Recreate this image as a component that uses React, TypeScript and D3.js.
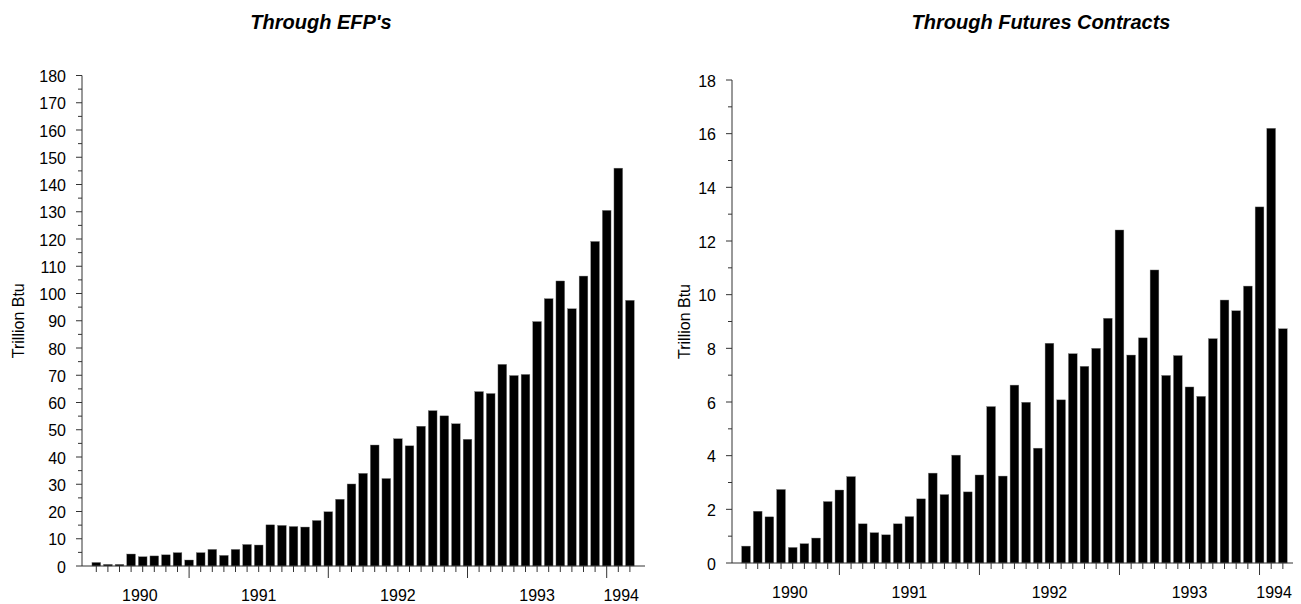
import React from "react";
import * as d3 from "d3";

const months: string[] = [
  "1990-05","1990-06","1990-07","1990-08","1990-09","1990-10","1990-11","1990-12",
  "1991-01","1991-02","1991-03","1991-04","1991-05","1991-06","1991-07","1991-08","1991-09","1991-10","1991-11","1991-12",
  "1992-01","1992-02","1992-03","1992-04","1992-05","1992-06","1992-07","1992-08","1992-09","1992-10","1992-11","1992-12",
  "1993-01","1993-02","1993-03","1993-04","1993-05","1993-06","1993-07","1993-08","1993-09","1993-10","1993-11","1993-12",
  "1994-01","1994-02","1994-03",
];

const efpValues: number[] = [
  1.3, 0.6, 0.6, 4.4, 3.4, 3.7, 4.1, 4.9, 2.2, 4.9, 6.1, 3.9, 6.1, 7.9, 7.7, 15.1,
  14.9, 14.5, 14.3, 16.7, 19.9, 24.5, 30.1, 34.0, 44.4, 32.1, 46.7, 44.1, 51.3, 57.0, 55.1, 52.2,
  46.5, 64.0, 63.3, 74.0, 69.9, 70.3, 89.7, 98.1, 104.6, 94.4, 106.4, 119.1, 130.5, 146.0, 97.5,
];

const futuresValues: number[] = [
  0.63, 1.93, 1.72, 2.74, 0.58, 0.72, 0.93, 2.29, 2.72, 3.22, 1.46, 1.13, 1.05, 1.46, 1.73, 2.39,
  3.35, 2.55, 4.02, 2.65, 3.28, 5.83, 3.24, 6.63, 5.99, 4.28, 8.19, 6.08, 7.80, 7.33, 8.0, 9.12,
  12.41, 7.75, 8.39, 10.92, 6.99, 7.73, 6.56, 6.21, 8.36, 9.80, 9.40, 10.32, 13.27, 16.20, 8.73,
];

const years: string[] = ["1990", "1991", "1992", "1993", "1994"];
const efpTicks: number[] = [0, 10, 20, 30, 40, 50, 60, 70, 80, 90, 100, 110, 120, 130, 140, 150, 160, 170, 180];
const futuresTicks: number[] = [0, 2, 4, 6, 8, 10, 12, 14, 16, 18];

const FONT = "Liberation Sans, Arial, sans-serif";
const AXIS = "#333";

type PanelProps = {
  title: string;
  titleX: number;
  values: number[];
  yMax: number;
  ticks: number[];
  minorStep: number;
  axisX: number;
  axisEnd: number;
  bandStart: number;
  bandEnd: number;
  yBottom: number;
  yTop: number;
  yLabelX: number;
};

function Panel(p: PanelProps) {
  const x = d3.scaleBand<string>().domain(months).range([p.bandStart, p.bandEnd]).paddingInner(0.25).paddingOuter(0.125);
  const y = d3.scaleLinear().domain([0, p.yMax]).range([p.yBottom, p.yTop]);
  const cx = (m: string) => (x(m) as number) + x.bandwidth() / 2;
  const minor = d3.range(p.minorStep, p.yMax, p.minorStep * 2);
  const janIdx = months.map((m, i) => (m.endsWith("-01") ? i : -1)).filter((i) => i >= 0);
  const bounds = [p.bandStart, ...janIdx.map((i) => cx(months[i])), p.bandEnd];
  return (
    <g>
      <text x={p.titleX} y={29} textAnchor="middle" fontFamily={FONT} fontSize={20} fontWeight="bold" fontStyle="italic">
        {p.title}
      </text>
      <text
        transform={`translate(${p.yLabelX},${(p.yTop + p.yBottom) / 2}) rotate(-90)`}
        textAnchor="middle"
        fontFamily={FONT}
        fontSize={16}
      >
        Trillion Btu
      </text>
      {months.map((m, i) => (
        <rect key={m} x={x(m)} y={y(p.values[i])} width={x.bandwidth()} height={p.yBottom - y(p.values[i])} fill="#000" stroke="#777" strokeWidth={0.4} />
      ))}
      <line x1={p.axisX} x2={p.axisX} y1={p.yTop} y2={p.yBottom} stroke={AXIS} strokeWidth={1} />
      <line x1={p.axisX} x2={p.axisEnd} y1={p.yBottom} y2={p.yBottom} stroke={AXIS} strokeWidth={1} />
      {p.ticks.map((t) => (
        <g key={t}>
          <line x1={p.axisX - 6} x2={p.axisX} y1={y(t)} y2={y(t)} stroke={AXIS} />
          <text x={p.axisX - 16} y={y(t) + 6.5} textAnchor="end" fontFamily={FONT} fontSize={16}>
            {t}
          </text>
        </g>
      ))}
      {minor.map((t) => (
        <line key={t} x1={p.axisX - 4} x2={p.axisX} y1={y(t)} y2={y(t)} stroke={AXIS} />
      ))}
      {months.map((m) => (
        <line key={m} x1={cx(m)} x2={cx(m)} y1={p.yBottom} y2={p.yBottom + (m.endsWith("-01") ? 12 : 6)} stroke={AXIS} />
      ))}
      {years.map((yr, i) => (
        <text key={yr} x={(bounds[i] + bounds[i + 1]) / 2} y={p.yBottom + 35} textAnchor="middle" fontFamily={FONT} fontSize={16}>
          {yr}
        </text>
      ))}
    </g>
  );
}

export default function App() {
  return (
    <svg width={1301} height={604} style={{ position: "absolute", left: 0, top: 0, display: "block" }}>
      <rect x={0} y={0} width={1301} height={604} fill="#fff" />
      <Panel
        title="Through EFP's"
        titleX={321}
        values={efpValues}
        yMax={180}
        ticks={efpTicks}
        minorStep={5}
        axisX={82}
        axisEnd={645}
        bandStart={90.5}
        bandEnd={635.7}
        yBottom={566}
        yTop={75.5}
        yLabelX={24}
      />
      <Panel
        title="Through Futures Contracts"
        titleX={1041}
        values={futuresValues}
        yMax={18}
        ticks={futuresTicks}
        minorStep={1}
        axisX={732}
        axisEnd={1293}
        bandStart={740.2}
        bandEnd={1288.7}
        yBottom={563}
        yTop={80}
        yLabelX={690}
      />
    </svg>
  );
}
